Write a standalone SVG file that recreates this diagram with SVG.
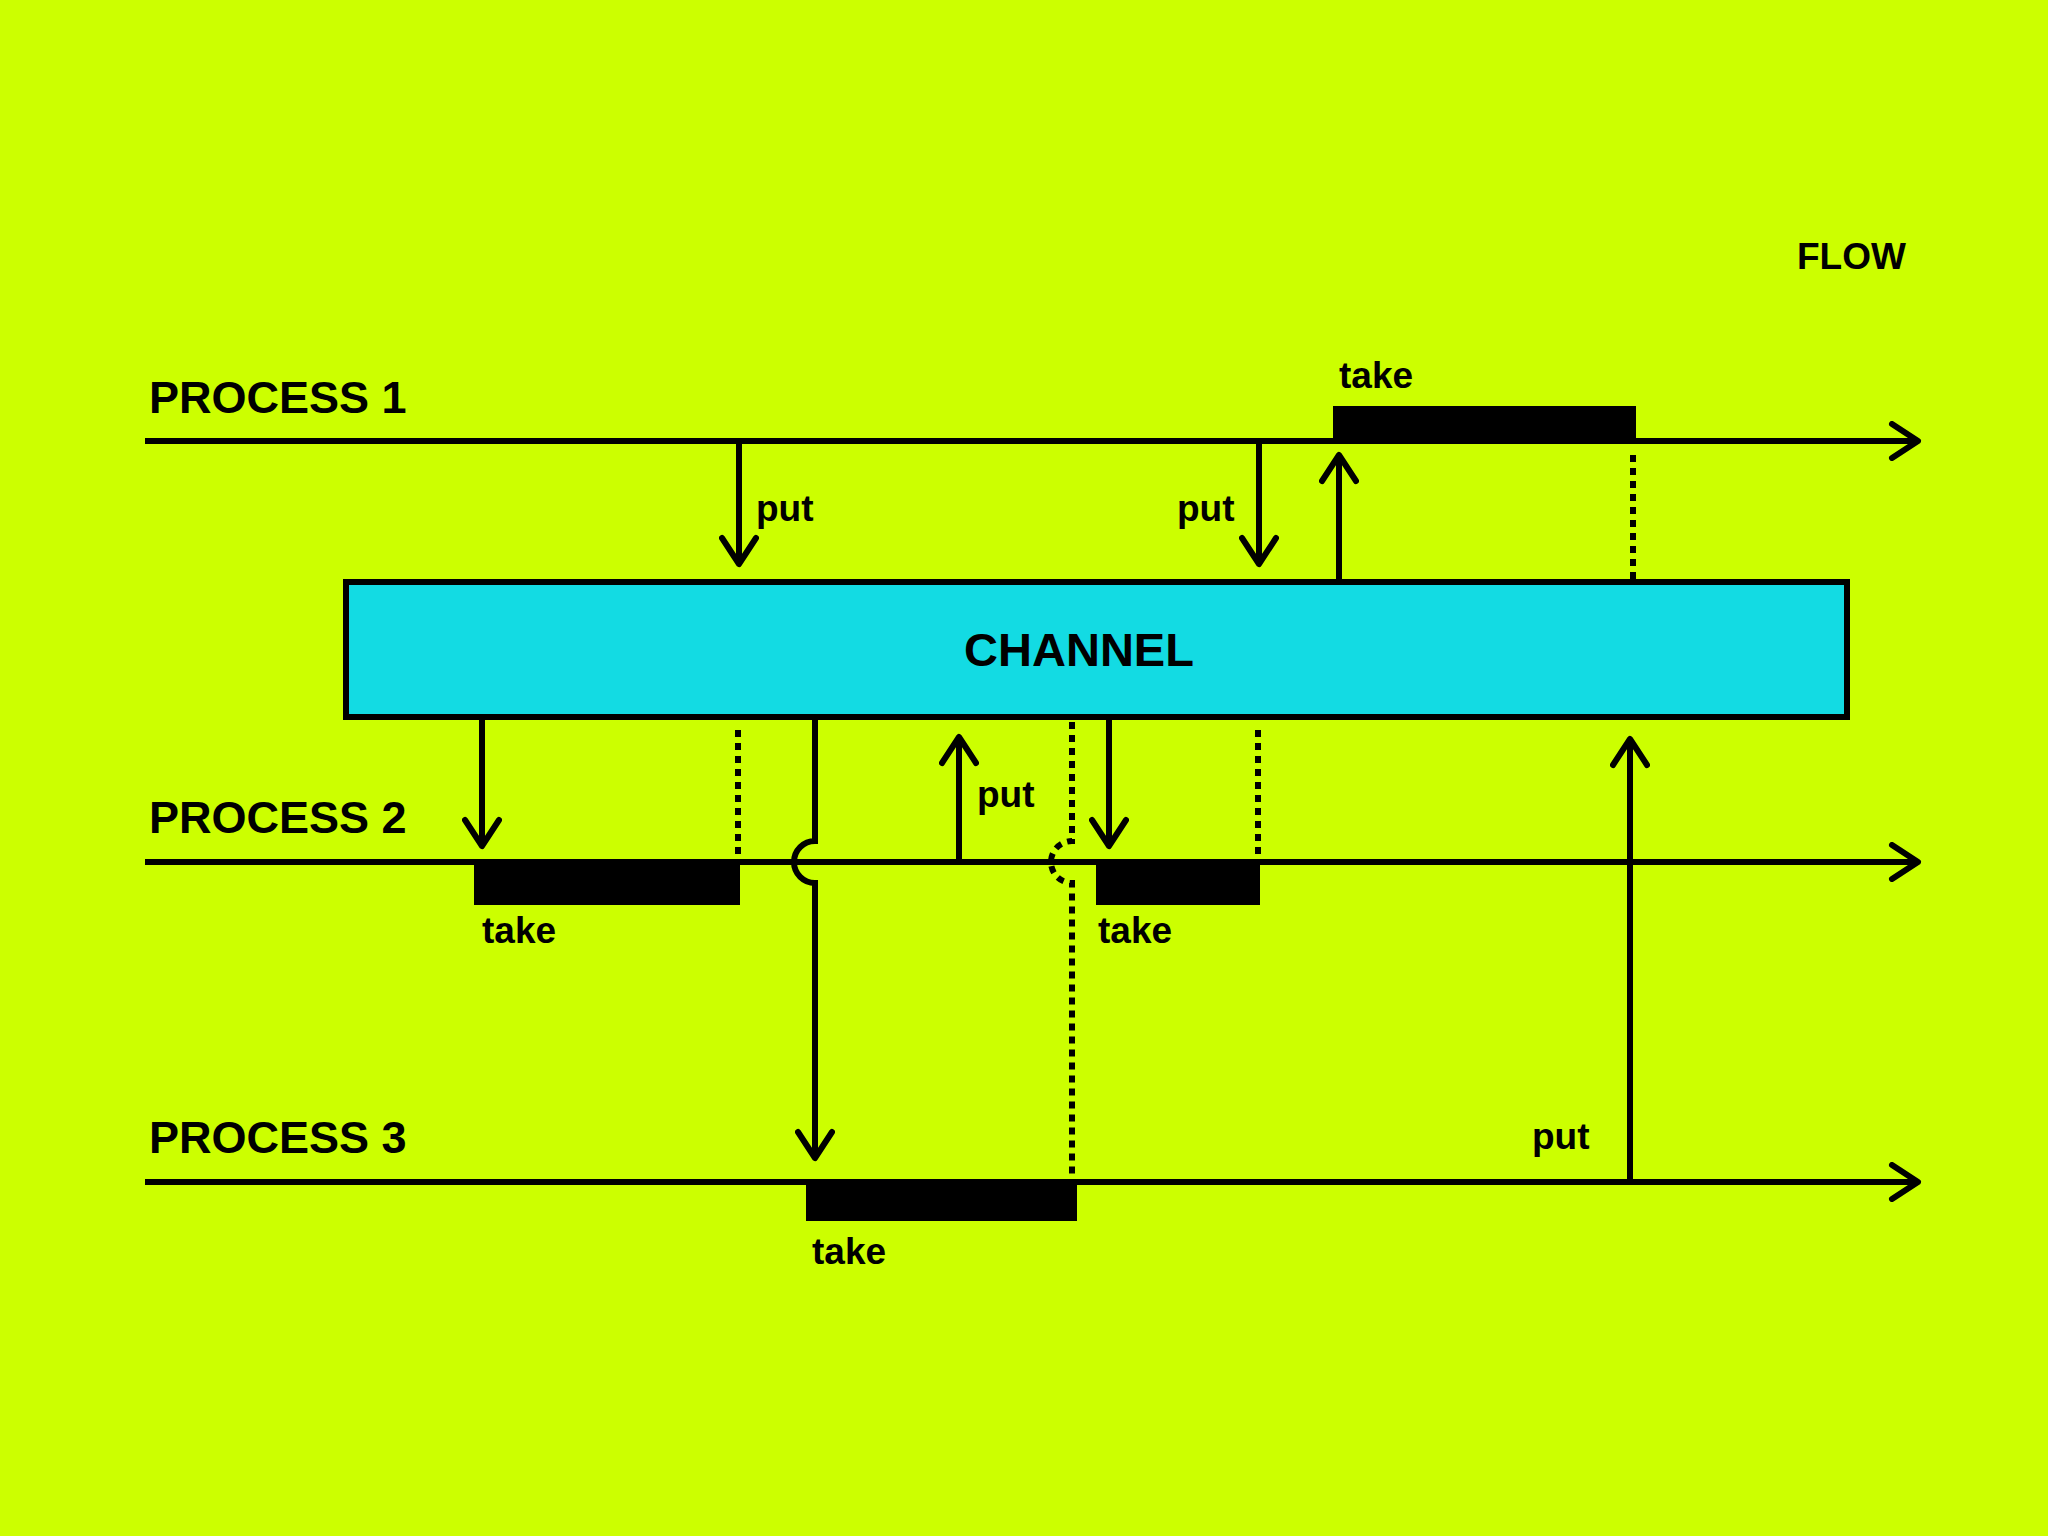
<svg xmlns="http://www.w3.org/2000/svg" width="2048" height="1536" viewBox="0 0 2048 1536">
<defs>
<marker id="ah" markerUnits="userSpaceOnUse" markerWidth="40" markerHeight="40" viewBox="-30 -20 34 40" refX="0" refY="0" orient="auto">
<path d="M-26,-17 L0,0 L-26,17" fill="none" stroke="#000" stroke-width="6" stroke-linecap="round" stroke-linejoin="round"/>
</marker>
<style>
.ln{stroke:#000;stroke-width:6;fill:none}
.ar{stroke:#000;stroke-width:6;fill:none;marker-end:url(#ah)}
.dt{stroke:#000;stroke-width:6;fill:none;stroke-dasharray:7 6}
.t{font-family:"Liberation Sans",Arial,sans-serif;font-weight:bold;fill:#000}
.lb{font-size:45px}
.sm{font-size:37px}
</style>
</defs>
<rect width="2048" height="1536" fill="#ccff00"/>
<text class="t sm" x="1797" y="269">FLOW</text>
<g id="process1">
<line class="ar" x1="145" y1="441" x2="1918" y2="441"/>
<text class="t lb" x="149" y="413">PROCESS 1</text>
<rect x="1333" y="406" width="303" height="35" fill="#000"/>
<text class="t sm" x="1339" y="388">take</text>
</g>
<g id="process2">
<line class="ar" x1="145" y1="862" x2="1918" y2="862"/>
<text class="t lb" x="149" y="833">PROCESS 2</text>
<rect x="474" y="862" width="266" height="43" fill="#000"/>
<text class="t sm" x="482" y="943">take</text>
<rect x="1096" y="862" width="164" height="43" fill="#000"/>
<text class="t sm" x="1098" y="943">take</text>
</g>
<g id="process3">
<line class="ar" x1="145" y1="1182" x2="1918" y2="1182"/>
<text class="t lb" x="149" y="1153">PROCESS 3</text>
<rect x="806" y="1182" width="271" height="39" fill="#000"/>
<text class="t sm" x="812" y="1264">take</text>
</g>
<g id="channel">
<rect x="346" y="582" width="1501" height="135" fill="#13dbe3" stroke="#000" stroke-width="6"/>
<text class="t" x="1079" y="666" font-size="47" text-anchor="middle">CHANNEL</text>
</g>
<g id="connectors">
<line class="ar" x1="739" y1="441" x2="739" y2="564"/>
<text class="t sm" x="756" y="521">put</text>
<line class="ar" x1="1259" y1="441" x2="1259" y2="564"/>
<text class="t sm" x="1177" y="521">put</text>
<line class="ar" x1="1339" y1="582" x2="1339" y2="455"/>
<line class="dt" x1="1633" y1="455" x2="1633" y2="582"/>
<line class="ar" x1="482" y1="717" x2="482" y2="846"/>
<line class="dt" x1="738" y1="730" x2="738" y2="862"/>
<path class="ar" d="M815,717 L815,841 A21,21 0 0 0 815,883 L815,1158"/>
<line class="ar" x1="959" y1="862" x2="959" y2="737"/>
<text class="t sm" x="977" y="807">put</text>
<path class="dt" d="M1072,722 L1072,841 A21,21 0 0 0 1072,883 L1072,1182"/>
<line class="ar" x1="1109" y1="717" x2="1109" y2="846"/>
<line class="dt" x1="1258" y1="730" x2="1258" y2="862"/>
<line class="ar" x1="1630" y1="1182" x2="1630" y2="739"/>
<text class="t sm" x="1532" y="1149">put</text>
</g>
</svg>
